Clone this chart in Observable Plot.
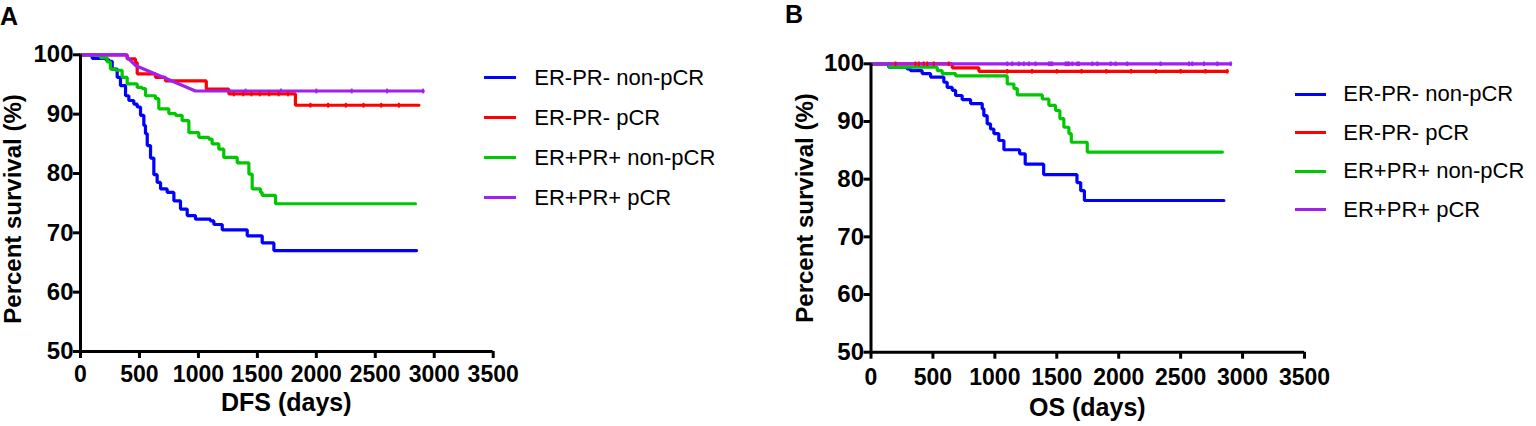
<!DOCTYPE html>
<html><head><meta charset="utf-8">
<script src="https://cdn.jsdelivr.net/npm/d3@7"></script>
<script src="https://cdn.jsdelivr.net/npm/@observablehq/plot@0.6"></script>
<style>
body{margin:0;background:#fff;}
#wrap{position:relative;width:1536px;height:426px;overflow:hidden;font-family:"Liberation Sans",Arial,sans-serif;color:#000;}
.abs{position:absolute;white-space:nowrap;}
.panel{position:absolute;top:0;}
.letter{font-size:25px;line-height:25px;font-weight:bold;}
.xt{font-size:25px;line-height:25px;font-weight:bold;width:400px;text-align:center;}
.yt{font-size:24px;line-height:24px;font-weight:bold;width:400px;text-align:center;transform:rotate(-90deg);transform-origin:center center;}
.lt{font-size:22px;line-height:22px;}
.ll{height:3px;}
</style>
</head><body>
<div id="wrap"></div>
<script>
// ---------- data (days, percent survival) ----------
const groups = ["ER-PR- non-pCR", "ER-PR- pCR", "ER+PR+ non-pCR", "ER+PR+ pCR"];
const colors = ["#0000ff", "#ff0000", "#00c800", "#a020f0"];
const xTicks = [0, 500, 1000, 1500, 2000, 2500, 3000, 3500];
const yTicks = [50, 60, 70, 80, 90, 100];

// Panel A: DFS
const dfsNonPcrNeg = [[0,100],[99,99.4],[212,99.2],[240,98.9],[269,97.6],[311,96.2],[339,94.8],[382,93.1],[410,92.3],[452,91.7],[481,91.2],[509,89.8],[537,88.1],[551,86.7],[566,84.7],[594,82.6],[622,79.8],[650,78.5],[679,77.4],[735,76.8],[792,75.4],[848,74.0],[905,72.9],[975,72.3],[1102,72.0],[1131,71.4],[1202,70.5],[1414,69.5],[1541,68.3],[1640,67.0],[2850,67.0]];
const dfsPcrNeg = [[0,100],[396,99.3],[466,98.7],[481,96.8],[636,96.2],[721,95.6],[1067,94.2],[1258,93.4],[1823,91.5],[2870,91.5]];
const dfsNonPcrPos = [[0,100],[170,99.5],[226,98.8],[254,97.6],[297,97.4],[353,96.2],[396,95.1],[481,94.5],[523,94.3],[551,93.1],[636,92.6],[664,90.9],[749,90.1],[806,89.8],[862,88.9],[919,86.9],[1003,86.1],[1088,85.8],[1116,85.0],[1173,84.1],[1215,82.7],[1329,81.8],[1428,79.9],[1456,77.4],[1527,76.8],[1541,76.3],[1654,74.9],[2841,74.9]];
const dfsPcrPos = [[0,100],[382,100],[410,99.3],[466,98.2],[975,93.9],[2906,93.9]];
const dfsCensorRed = [[1300,93.4],[1380,93.4],[1450,93.4],[1520,93.4],[1600,93.4],[1680,93.4],[1760,93.4],[1950,91.5],[2100,91.5],[2250,91.5],[2400,91.5],[2550,91.5],[2700,91.5]];
const dfsCensorPurple = [[1400,93.9],[1700,93.9],[2000,93.9],[2300,93.9],[2600,93.9],[2906,93.9]];

// Panel B: OS
const osNonPcrNeg = [[0,100],[144,99.4],[292,99.1],[319,98.8],[413,98.3],[481,97.7],[588,96.8],[615,95.9],[656,95.4],[683,94.5],[736,93.8],[804,93.1],[898,92.2],[911,91.0],[938,89.6],[965,88.7],[992,87.9],[1032,86.7],[1073,85.1],[1200,84.4],[1245,82.6],[1394,80.8],[1663,79.4],[1693,78.0],[1723,76.3],[2849,76.3]];
const osPcrNeg = [[0,100],[656,99.3],[871,98.7],[2877,98.7]];
const osNonPcrPos = [[0,100],[150,99.4],[535,98.8],[575,98.3],[683,97.9],[1100,96.5],[1154,95.7],[1181,94.6],[1383,93.9],[1436,92.8],[1490,91.9],[1525,90.5],[1557,89.0],[1598,87.9],[1617,86.4],[1746,84.7],[2837,84.7]];
const osPcrPos = [[0,100],[2904,100]];
const osCensorRed = [[198,100],[359,100],[386,100],[426,100],[454,100],[507,100],[628,100],[1100,98.7],[1300,98.7],[1500,98.7],[1700,98.7],[1900,98.7],[2100,98.7],[2300,98.7],[2500,98.7],[2700,98.7],[2877,98.7]];
const osCensorPurple = [[1100,100],[1140,100],[1194,100],[1234,100],[1275,100],[1328,100],[1436,100],[1450,100],[1463,100],[1571,100],[1585,100],[1598,100],[1625,100],[1665,100],[1679,100],[1787,100],[1827,100],[1935,100],[1975,100],[2069,100],[2338,100],[2567,100],[2594,100],[2688,100],[2796,100],[2904,100]];

// ---------- drawing ----------
const FONT = '"Liberation Sans", Arial, sans-serif';
const wrap = document.getElementById("wrap");

function rows(arr) { return arr.map(([x, y]) => ({x, y})); }

function panel({series, linearLast, censors, left, width, mL, mR, mT, mB, tickPadX}) {
  const marks = [];
  series.forEach((s, i) => {
    const isLinear = linearLast && i === 3;
    marks.push(Plot.line(rows(s), {x: "x", y: "y", stroke: colors[i], strokeWidth: 3.2,
      curve: isLinear ? "linear" : "step-after", strokeLinejoin: "miter"}));
  });
  censors.forEach(([arr, ci]) => {
    marks.push(Plot.link(rows(arr), {x1: "x", x2: "x", y1: d => d.y - 0.4, y2: d => d.y + 0.4,
      stroke: colors[ci], strokeWidth: 2}));
  });
  marks.push(Plot.ruleX([0], {y1: 50, y2: 100, stroke: "black", strokeWidth: 3}));
  marks.push(Plot.ruleY([50], {x1: 0, x2: 3500, stroke: "black", strokeWidth: 3}));
  marks.push(Plot.axisX({ticks: xTicks, tickSize: 7, tickPadding: tickPadX, strokeWidth: 3, label: null,
    tickFormat: d => String(d), fontWeight: "bold", fontSize: 23}));
  marks.push(Plot.axisY({ticks: yTicks, tickSize: 7, tickPadding: 0, strokeWidth: 3, label: null,
    tickFormat: d => String(d), fontWeight: "bold", fontSize: 24}));
  const svg = Plot.plot({
    width, height: 426,
    marginLeft: mL, marginRight: mR, marginTop: mT, marginBottom: mB,
    x: {domain: [0, 3500]},
    y: {domain: [50, 100]},
    style: {fontFamily: FONT, fontSize: "23px", fontWeight: "bold", color: "black", background: "transparent", overflow: "visible"},
    marks
  });
  svg.classList.add("panel");
  svg.style.left = left + "px";
  wrap.appendChild(svg);
}

panel({series: [dfsNonPcrNeg, dfsPcrNeg, dfsNonPcrPos, dfsPcrPos], linearLast: true,
  censors: [[dfsCensorRed, 1], [dfsCensorPurple, 3]],
  left: 0, width: 520, mL: 80, mR: 27.3, mT: 54.3, mB: 75, tickPadX: 7});
panel({series: [osNonPcrNeg, osPcrNeg, osNonPcrPos, osPcrPos], linearLast: false,
  censors: [[osCensorRed, 1], [osCensorPurple, 3]],
  left: 790, width: 540, mL: 80.5, mR: 26, mT: 63.3, mB: 74.3, tickPadX: 9.5});

function addText(cls, text, left, top) {
  const d = document.createElement("div");
  d.className = "abs " + cls;
  d.textContent = text;
  d.style.left = left + "px";
  d.style.top = top + "px";
  wrap.appendChild(d);
  return d;
}

// panel letters
addText("letter", "A", 0, 3.7);
addText("letter", "B", 785, 1.7);
// axis titles
addText("xt", "DFS (days)", 286.3 - 200, 389.7);
addText("xt", "OS (days)", 1087.3 - 200, 395);
addText("yt", "Percent survival (%)", 12.5 - 200, 208.5 - 12);
addText("yt", "Percent survival (%)", 805 - 200, 207.5 - 12);

// legends
function legend(x0, x1, xt, ys) {
  groups.forEach((g, i) => {
    const l = document.createElement("div");
    l.className = "abs ll";
    l.style.left = x0 + "px";
    l.style.width = (x1 - x0) + "px";
    l.style.top = (ys[i] - 1.5) + "px";
    l.style.background = colors[i];
    wrap.appendChild(l);
    addText("lt", g, xt, ys[i] - 10.7);
  });
}
legend(484, 515.7, 534.3, [77.7, 117.3, 157.3, 197.3]);
legend(1295, 1325.7, 1343.3, [94, 132.3, 171, 209.3]);
</script>
</body></html>
